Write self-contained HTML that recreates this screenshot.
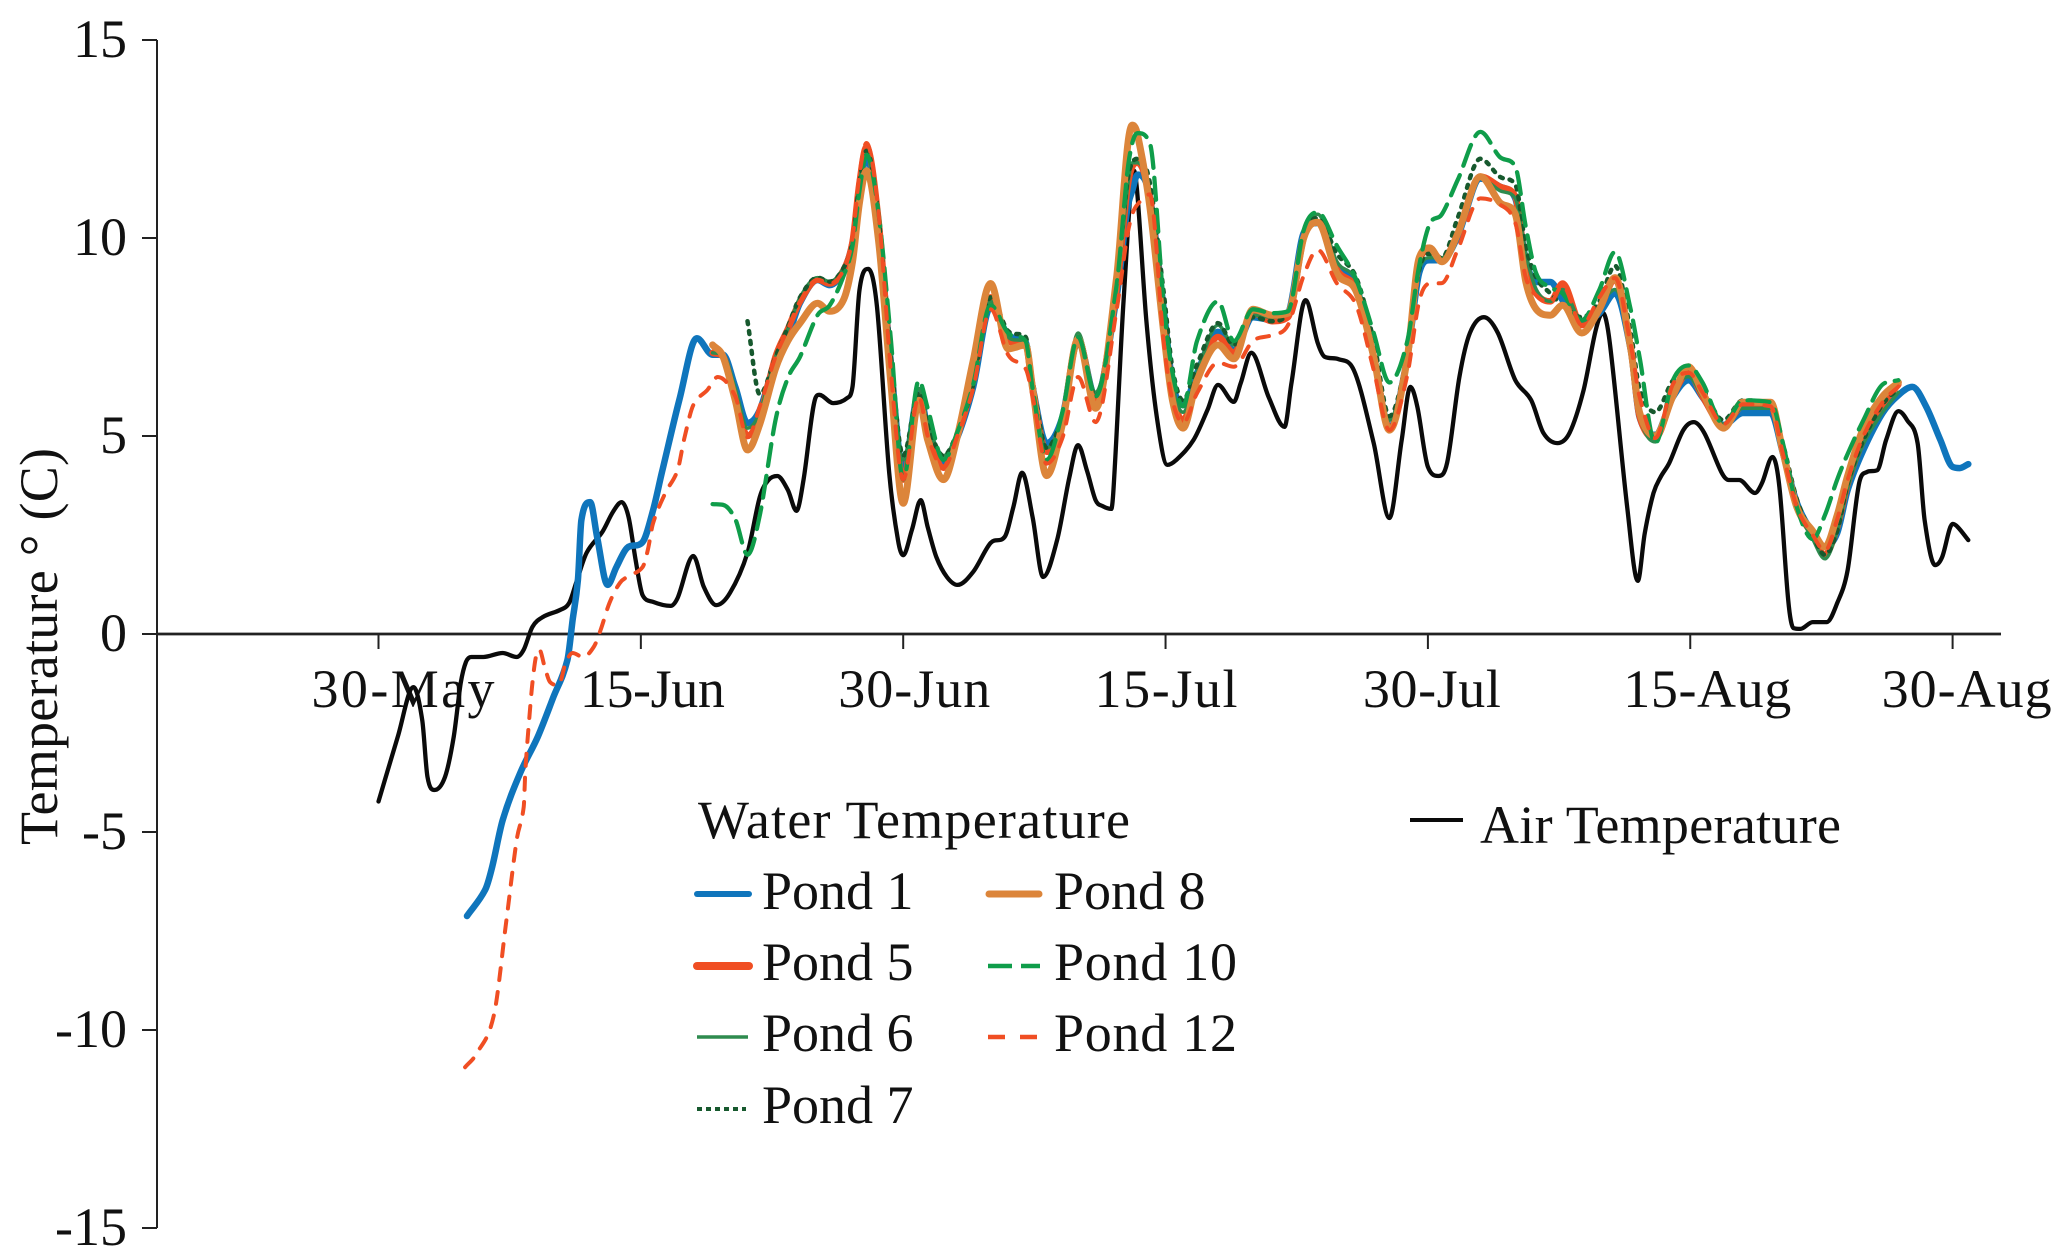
<!DOCTYPE html>
<html lang="en">
<head>
<meta charset="utf-8">
<title>Water and Air Temperature</title>
<style>
html,body{margin:0;padding:0;background:#fff;width:2067px;height:1260px;overflow:hidden}
svg{display:block}
text{font-family:"Liberation Serif",serif;fill:#111;font-size:54px}
</style>
</head>
<body>
<svg id="chart" xmlns="http://www.w3.org/2000/svg" width="2067" height="1260" viewBox="0 0 2067 1260">
  <rect x="0" y="0" width="2067" height="1260" fill="#fff"/>
  <g id="axes"></g>
  <g id="marks"></g>
  <text transform="translate(57 845) rotate(-90)" textLength="397" lengthAdjust="spacing">Temperature ° (C)</text>
  <g>
    <text x="698" y="838" textLength="432" lengthAdjust="spacing">Water Temperature</text>
    <g>
      <line x1="697" y1="894" x2="749" y2="894" stroke="#0f75bc" stroke-width="6" stroke-linecap="round"/>
      <text x="762" y="909">Pond 1</text>
    </g>
    <g>
      <line x1="697" y1="966" x2="749" y2="966" stroke="#f04e23" stroke-width="8" stroke-linecap="round"/>
      <text x="762" y="980">Pond 5</text>
    </g>
    <g>
      <line x1="697" y1="1037" x2="748" y2="1037" stroke="#2e8b4f" stroke-width="3.5"/>
      <text x="762" y="1051">Pond 6</text>
    </g>
    <g>
      <line x1="697" y1="1109" x2="746" y2="1109" stroke="#17592e" stroke-width="4" stroke-dasharray="5 4"/>
      <text x="762" y="1123">Pond 7</text>
    </g>
    <g>
      <line x1="989" y1="894" x2="1039" y2="894" stroke="#dc853a" stroke-width="7" stroke-linecap="round"/>
      <text x="1054" y="909">Pond 8</text>
    </g>
    <g>
      <line x1="988" y1="966" x2="1040" y2="966" stroke="#0f9d4a" stroke-width="4.5" stroke-dasharray="24 9"/>
      <text x="1054" y="980" textLength="183" lengthAdjust="spacing">Pond 10</text>
    </g>
    <g>
      <line x1="988" y1="1037" x2="1038" y2="1037" stroke="#f04e23" stroke-width="4.5" stroke-dasharray="17 15"/>
      <text x="1054" y="1051" textLength="183" lengthAdjust="spacing">Pond 12</text>
    </g>
    <g>
      <line x1="1410" y1="820" x2="1463" y2="820" stroke="#0a0a0a" stroke-width="4"/>
      <text x="1480" y="843" textLength="361" lengthAdjust="spacing">Air Temperature</text>
    </g>
  </g>
</svg>
<script>
const yTickValues = [15,10,5,0,-5,-10,-15];
const xTickDays = [0,15,30,45,60,75,90];
const xTickLabels = ["30-May","15-Jun","30-Jun","15-Jul","30-Jul","15-Aug","30-Aug"];

const airDays = [0,1.1,2.0,2.5,2.8,3.2,3.8,4.3,4.7,5.0,5.3,6.0,7.1,7.9,8.3,8.8,9.4,10.4,10.9,11.3,11.9,12.8,13.4,13.9,14.3,14.7,15.1,15.7,16.7,17.1,18.0,18.6,19.3,20.1,21.1,21.8,22.3,22.8,23.4,23.9,24.3,25.0,25.2,26.0,26.8,27.1,27.5,28.0,28.5,29.2,29.7,30.0,30.5,31.0,31.4,31.9,32.5,33.1,34.0,35.0,35.8,36.3,36.8,37.4,38.0,38.8,39.5,40.0,40.5,41.0,41.4,41.9,42.1,42.6,43.2,43.4,43.9,44.5,45.1,45.6,46.6,47.4,48.0,48.9,49.3,49.9,50.9,51.8,52.2,53.0,53.7,54.1,54.9,55.7,56.9,57.8,58.5,59.0,59.4,60.0,60.6,61.1,61.8,62.4,63.2,64.0,65.0,65.9,66.6,67.4,68.1,68.9,69.6,70.0,70.4,71.4,72.0,72.4,72.9,73.3,73.8,74.6,75.2,75.8,76.8,77.2,77.8,78.7,79.1,79.7,80.1,80.6,80.9,81.3,82.0,82.8,83.4,84.0,84.7,85.1,85.7,86.2,86.9,87.4,88.0,88.4,89.0,89.4,90.0,90.3,90.9];
const airTemps = [-4.23,-2.6,-1.34,-2.17,-3.61,-3.94,-3.61,-2.6,-1.24,-0.71,-0.58,-0.58,-0.48,-0.58,-0.4,0.18,0.43,0.61,0.78,1.29,2.05,2.58,3.08,3.33,2.95,1.87,0.98,0.81,0.71,0.91,1.97,1.19,0.73,1.04,2.05,3.46,3.89,3.99,3.64,3.11,3.89,5.98,6.04,5.83,5.96,6.24,8.69,9.22,8.26,4.07,2.37,1.99,2.63,3.38,2.7,1.94,1.44,1.24,1.57,2.3,2.45,3.21,4.07,2.95,1.44,2.37,3.96,4.77,4.14,3.38,3.23,3.16,4.22,8.43,11.7,11.04,7.93,5.48,4.27,4.39,4.9,5.66,6.29,5.86,6.34,7.1,5.98,5.23,6.34,8.43,7.35,7.0,6.94,6.72,4.82,2.93,4.9,6.24,5.73,4.22,3.99,4.32,6.49,7.6,8.0,7.6,6.41,5.91,5.08,4.82,5.08,6.16,7.68,8.11,7.35,3.18,1.34,2.55,3.56,3.96,4.32,5.15,5.35,5.08,4.07,3.89,3.89,3.56,3.81,4.47,3.71,0.86,0.15,0.13,0.3,0.3,0.78,1.62,3.89,4.09,4.14,4.9,5.63,5.4,4.82,2.88,1.74,1.94,2.78,2.7,2.37];

const pondDays = [
19.1,19.7,20.4,21.1,21.8,22.7,23.4,24.1,25.1,25.8,
26.6,27.1,27.5,27.9,28.6,29.3,30.0,30.9,31.4,32.3,
33.1,34.0,35.0,36.0,37.0,37.4,38.2,39.1,40.0,41.0,
42.2,42.8,43.1,43.4,44.1,44.9,45.4,46.0,46.8,48.0,
48.9,50.0,51.1,52.0,52.9,53.7,54.8,55.9,56.9,57.8,
58.8,59.5,60.1,60.8,61.7,63.0,64.1,65.0,65.6,66.2,
67.0,67.7,68.8,69.8,70.7,71.6,72.1,73.0,74.0,74.9,
75.7,76.9,78.0,79.6,80.3,81.1,82.0,82.7,83.4,84.0,
84.9,86.0,86.9];

const pond1EarlyDays = [5.06,6.1,6.5,7.1,8.1,9.1,10.0,10.8,11.1,11.4,11.6,12.1,12.5,13.1,13.6,14.2,15.1,15.7,16.2,17.2,18.2];
const pond1EarlyTemps = [-7.12,-6.46,-5.88,-4.7,-3.51,-2.6,-1.59,-0.66,0.35,1.36,2.88,3.33,2.45,1.24,1.69,2.17,2.32,3.13,4.07,5.91,7.47];
const pond1Temps = [
7.05,7.05,6.24,5.33,5.66,6.92,7.5,8.36,8.94,8.81,
9.19,9.87,11.1,12.07,10.2,6.8,4.14,6.08,5.23,4.34,
4.97,6.24,8.26,7.55,7.37,6.24,4.82,5.48,7.42,5.98,
8.51,10.7,11.2,11.6,11.04,8.18,6.34,5.78,6.59,7.63,
7.17,8.0,7.93,8.1,10.13,10.38,9.27,8.76,7.0,5.23,
6.92,9.12,9.44,9.44,10.03,11.5,11.3,11.0,9.44,8.89,
8.89,8.43,7.85,8.1,8.6,7.17,5.48,5.03,5.98,6.41,
5.98,5.28,5.58,5.58,4.57,3.31,2.55,2.2,2.55,3.64,
4.65,5.58,6.03];
const pond1LateDays = [87.7,88.5,89.3,90.0,90.4,90.9];
const pond1LateTemps = [6.24,5.73,4.9,4.22,4.19,4.29];

const pond5Temps = [
7.1,7.0,6.0,5.0,5.5,7.0,7.7,8.4,8.95,8.85,
9.2,9.9,11.4,12.3,10.4,6.6,3.9,6.0,5.1,4.2,
5.0,6.4,8.5,7.4,7.3,6.2,4.6,5.4,7.45,5.9,
8.7,11.2,11.8,11.9,11.0,8.0,6.1,5.4,6.4,7.5,
7.1,8.1,7.9,8.0,10.0,10.4,9.2,8.7,7.0,5.2,
6.9,9.4,9.7,9.45,10.1,11.55,11.3,11.05,9.3,8.6,
8.4,8.85,7.8,8.2,8.95,7.2,5.5,4.95,6.0,6.6,
6.0,5.25,5.75,5.75,4.6,3.2,2.5,2.0,2.7,3.8,
4.9,5.8,6.3];

const pond6Temps = [
7.1,7.05,6.2,5.2,5.6,7.0,7.7,8.5,9.0,8.9,
9.25,9.9,11.4,12.1,10.3,6.9,4.4,6.2,5.3,4.5,
5.1,6.4,8.4,7.5,7.35,6.2,4.7,5.5,7.6,6.1,
8.7,11.2,11.9,11.9,11.1,8.2,6.3,5.6,6.6,7.8,
7.3,8.05,8.0,8.1,10.1,10.6,9.4,8.9,7.1,5.4,
7.0,9.2,9.5,9.5,10.1,11.5,11.2,11.0,9.6,8.7,
8.4,8.7,7.9,8.3,8.7,7.2,5.5,4.85,6.1,6.5,
6.0,5.3,5.7,5.7,4.6,3.2,2.4,1.9,2.6,3.7,
4.8,5.6,6.1];

const pond7Temps = [
null,null,null,7.9,6.05,7.0,7.75,8.5,9.0,8.9,
9.25,9.9,11.4,12.2,10.5,7.0,4.5,6.1,5.3,4.5,
5.1,6.3,8.5,7.65,7.5,6.4,4.7,5.5,7.3,6.0,
8.8,11.4,11.9,12.0,11.4,8.6,6.7,5.9,6.8,7.85,
7.3,8.0,7.9,8.1,10.1,10.5,9.6,9.0,7.4,5.5,
7.0,9.2,9.6,9.5,10.5,12.0,11.55,11.35,9.8,9.0,
8.6,8.3,8.0,8.4,9.3,7.6,6.2,5.6,6.4,6.7,
6.2,5.4,5.9,5.8,4.8,3.4,2.5,2.0,2.6,3.8,
4.9,5.8,6.2];

const pond8Temps = [
7.3,7.0,5.9,4.65,5.3,6.7,7.4,7.85,8.35,8.15,
8.45,9.4,10.9,11.7,9.9,6.3,3.3,5.9,4.9,3.9,
5.0,6.9,8.85,7.2,7.3,6.2,4.0,5.3,7.45,5.7,
9.0,12.2,12.85,12.6,10.8,7.6,5.9,5.2,6.4,7.3,
6.95,8.2,8.05,8.1,10.0,10.4,9.1,8.65,7.0,5.15,
6.9,9.5,9.75,9.4,10.1,11.55,10.9,10.6,8.9,8.2,
8.05,8.3,7.6,8.2,9.0,7.2,5.6,5.0,6.0,6.75,
6.1,5.2,5.85,5.85,4.6,3.2,2.6,2.2,3.0,4.0,
5.2,6.0,6.35];

const pond10Temps = [
3.28,3.26,2.9,2.0,3.0,5.4,6.46,7.0,8.05,8.3,
9.05,9.8,11.2,12.1,10.6,7.4,3.9,6.4,5.7,4.4,
5.1,6.3,8.3,7.6,7.4,6.2,4.4,5.6,7.5,6.0,
8.8,11.6,12.4,12.65,12.4,8.3,6.6,5.75,7.4,8.4,
7.4,8.2,8.1,8.15,10.2,10.65,9.8,8.95,7.6,6.35,
7.35,9.3,10.35,10.6,11.46,12.68,12.05,11.8,10.28,9.1,
8.75,8.6,7.93,8.69,9.65,8.18,7.0,4.82,6.4,6.78,
6.35,5.3,5.9,5.85,4.82,3.2,2.4,3.0,3.9,4.55,
5.4,6.3,6.41];

const pond12EarlyDays = [4.95,5.6,6.6,7.3,7.9,8.3,8.4,8.6,8.8,9.0,9.2,9.5,9.8,10.3,10.7,11.1,11.7,12.3,12.7,13.2,13.8,14.3,15.1,15.4,15.7,16.4,17.1,17.5,18.0,18.8,19.4];
const pond12EarlyTemps = [-10.94,-10.6,-9.62,-7.27,-5.2,-4.37,-3.43,-2.25,-1.24,-0.58,-0.4,-0.83,-1.21,-1.29,-0.73,-0.48,-0.58,-0.33,0.1,0.78,1.29,1.46,1.69,2.12,2.8,3.56,4.14,4.97,5.78,6.16,6.49];
const pond12Temps = [
null,null,6.0,4.97,5.75,7.0,7.7,8.4,8.95,8.85,
9.2,10.0,11.6,12.4,10.6,6.6,3.9,6.0,5.0,4.2,
5.0,6.2,8.2,7.05,6.7,6.0,4.3,4.95,6.49,5.35,
8.18,10.03,10.6,10.85,11.1,7.35,5.9,5.33,6.08,6.85,
6.75,7.4,7.55,7.8,9.05,9.7,8.85,8.3,6.67,5.15,
6.49,8.4,8.85,8.86,9.7,11.0,10.85,10.38,9.0,8.55,
8.38,8.8,7.8,8.5,8.99,7.3,6.0,4.95,6.3,6.6,
6.1,5.3,5.8,5.75,4.55,3.2,2.5,2.1,2.9,3.9,
5.0,5.85,6.25];

const SVGNS = "http://www.w3.org/2000/svg";
const xScale = d => 378.5 + d * 17.49;
const yScale = t => 634 - t * 39.6;
const axisLeft = 157, axisRight = 2001;
const axesGroup = document.getElementById("axes");
const marksGroup = document.getElementById("marks");

function make(tag, attrs, parent) {
  const el = document.createElementNS(SVGNS, tag);
  for (const k in attrs) el.setAttribute(k, attrs[k]);
  parent.appendChild(el);
  return el;
}

/* y axis */
const yAxisLine = make("line", {x1: axisLeft, x2: axisLeft, y1: yScale(15), y2: yScale(-15), stroke: "#222", "stroke-width": 2}, axesGroup);


yTickValues.forEach(v => {
  const tick = make("line", {x1: axisLeft - 15, x2: axisLeft, y1: yScale(v), y2: yScale(v), stroke: "#222", "stroke-width": 2}, axesGroup);
  
  
  const label = make("text", {x: 127, y: yScale(v) + 17, "text-anchor": "end"}, axesGroup);
  label.textContent = String(v);
  
  
});

/* x axis (drawn at zero) */
const xAxisLine = make("line", {x1: axisLeft, x2: axisRight, y1: yScale(0), y2: yScale(0), stroke: "#222", "stroke-width": 2.8}, axesGroup);


const labelStartOffset = [-67,-61,-65,-71,-65,-67,-71];
const labelFitWidth = [183,145,152,143,138,168,170];
xTickDays.forEach((d, i) => {
  const tick = make("line", {x1: xScale(d), x2: xScale(d), y1: yScale(0), y2: yScale(0) + 15, stroke: "#222", "stroke-width": 2}, axesGroup);
  
  
  const label = make("text", {x: xScale(d) + labelStartOffset[i], y: 707, textLength: labelFitWidth[i], lengthAdjust: "spacing"}, axesGroup);
  label.textContent = xTickLabels[i];
  
  
});

/* smooth path through samples: monotone-limited cubic Hermite along x */
function linePath(days, temps) {
  const pts = [];
  days.forEach((d, i) => { if (temps[i] !== null) pts.push([xScale(d), yScale(temps[i])]); });
  const n = pts.length;
  const seg = i => (pts[i + 1][1] - pts[i][1]) / (pts[i + 1][0] - pts[i][0]);
  const slope = i => {
    if (i === 0) return seg(0);
    if (i === n - 1) return seg(n - 2);
    const a = seg(i - 1), b = seg(i);
    if (a * b <= 0) return 0;
    const c = (pts[i + 1][1] - pts[i - 1][1]) / (pts[i + 1][0] - pts[i - 1][0]);
    const limit = 3 * Math.min(Math.abs(a), Math.abs(b));
    return Math.sign(c) * Math.min(Math.abs(c), limit);
  };
  let out = "M" + pts[0][0].toFixed(1) + " " + pts[0][1].toFixed(1);
  for (let i = 0; i < n - 1; i++) {
    const p = pts[i], q = pts[i + 1], h = (q[0] - p[0]) / 3;
    out += "C" + (p[0] + h).toFixed(1) + " " + (p[1] + slope(i) * h).toFixed(1) + " "
         + (q[0] - h).toFixed(1) + " " + (q[1] - slope(i + 1) * h).toFixed(1) + " "
         + q[0].toFixed(1) + " " + q[1].toFixed(1);
  }
  return out;
}

function drawLine(days, temps, stroke, width, dash, cap) {
  return make("path", {d: linePath(days, temps), fill: "none", stroke: stroke, "stroke-width": width,
    "stroke-dasharray": dash || "none", "stroke-linecap": cap || "round", "stroke-linejoin": "round"}, marksGroup);
}

const airLine = drawLine(airDays, airTemps, "#0a0a0a", 4.3);



const pond1Line = drawLine(pond1EarlyDays.concat(pondDays, pond1LateDays), pond1EarlyTemps.concat(pond1Temps, pond1LateTemps), "#0f75bc", 6.5);



const pond5Line = drawLine(pondDays, pond5Temps, "#f04e23", 6.5);



const pond6Line = drawLine(pondDays, pond6Temps, "#2e8b4f", 3.5);



const pond7Line = drawLine(pondDays, pond7Temps, "#17592e", 4.5, "3 7");



const pond8Line = drawLine(pondDays, pond8Temps, "#dc853a", 7);



const pond10Line = drawLine(pondDays, pond10Temps, "#0f9d4a", 4.3, "22 10");



const pond12Line = drawLine(pond12EarlyDays.concat(pondDays), pond12EarlyTemps.concat(pond12Temps), "#f04e23", 4, "12 12");


</script>
</body>
</html>
